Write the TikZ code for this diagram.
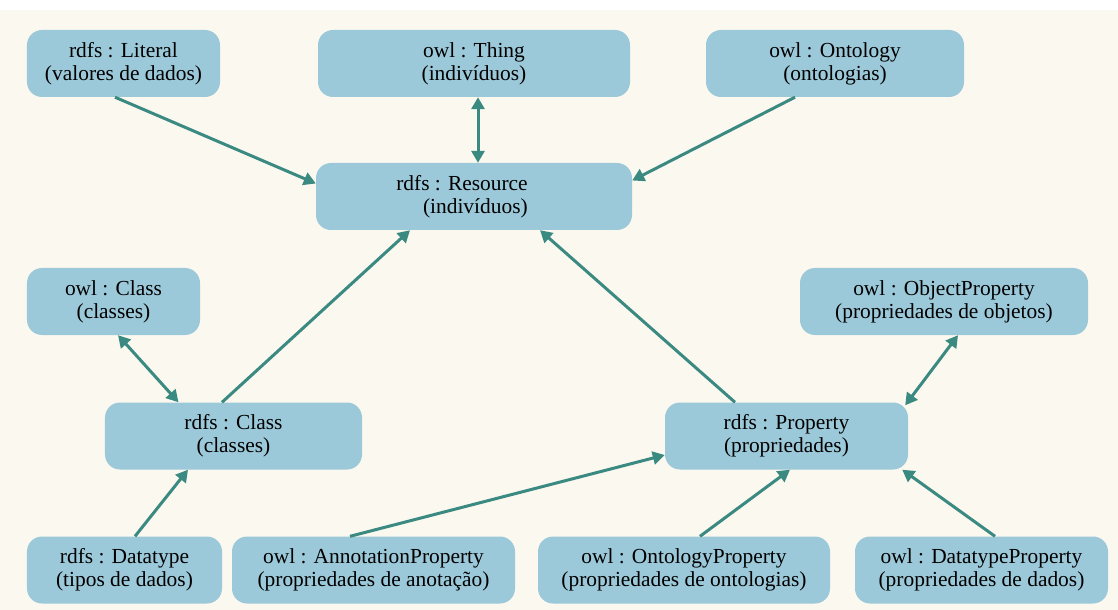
\documentclass[tikz,border=0pt]{standalone}
\usepackage{fontspec}
\setmainfont{Liberation Serif}
\usetikzlibrary{arrows.meta}
\definecolor{bg}{HTML}{FBF8EF}
\definecolor{boxblue}{HTML}{9CC9D9}
\definecolor{arr}{HTML}{3B8A82}
\begin{document}
\begin{tikzpicture}[x=1bp,y=-1bp,
  box/.style={rectangle, rounded corners=15bp, fill=boxblue, inner sep=0pt,
    minimum height=67bp, align=center, font=\fontsize{21.5}{23}\selectfont, text=black},
  link/.style={draw=arr, line width=3bp, -{Triangle[length=12bp,width=13bp]}},
  dlink/.style={draw=arr, line width=3bp, {Triangle[length=12bp,width=13bp]}-{Triangle[length=12bp,width=13bp]}}]
\fill[white] (0,0) rectangle (1118,610);
\fill[bg] (0,10) rectangle (1118,610);
\useasboundingbox (0,0) rectangle (1118,610);

\node[box, minimum width=193bp] (literal) at (123.5,63.5) {rdfs : Literal\\(valores de dados)};
\node[box, minimum width=312bp] (thing) at (474,63.5) {owl : Thing\\(indivíduos)};
\node[box, minimum width=258bp] (ontology) at (835,63.5) {owl : Ontology\\(ontologias)};
\node[box, minimum width=316bp] (resource) at (474,196.5) {};
\node[align=right, font=\fontsize{21.5}{23}\selectfont, text=black, inner sep=0pt] (restext) at (462,196.5) {rdfs : Resource\\(indivíduos)};
\node[box, minimum width=173bp] (owlclass) at (113.5,301.5) {owl : Class\\(classes)};
\node[box, minimum width=288bp] (objprop) at (944,301.5) {owl : ObjectProperty\\(propriedades de objetos)};
\node[box, minimum width=257bp] (rdfsclass) at (233.5,436) {rdfs : Class\\(classes)};
\node[box, minimum width=243bp] (property) at (786.5,436) {rdfs : Property\\(propriedades)};
\node[box, minimum width=195bp] (datatype) at (124.5,570) {rdfs : Datatype\\(tipos de dados)};
\node[box, minimum width=283bp] (annot) at (373.5,570) {owl : AnnotationProperty\\(propriedades de anotação)};
\node[box, minimum width=292bp] (ontprop) at (684,570) {owl : OntologyProperty\\(propriedades de ontologias)};
\node[box, minimum width=253bp] (dtprop) at (981.5,570) {owl : DatatypeProperty\\(propriedades de dados)};

\draw[link] ([xshift=-8.5bp]literal.south) -- ([yshift=13bp]resource.west);
\draw[dlink] ([xshift=4bp]thing.south) -- ([xshift=4bp]resource.north);
\draw[link] ([xshift=-40bp]ontology.south) -- ([yshift=16bp]resource.east);
\draw[dlink] ([xshift=4.5bp]owlclass.south) -- ([xshift=-55bp]rdfsclass.north);
\draw[link] ([xshift=-11.5bp]rdfsclass.north) -- ([xshift=-64bp]resource.south);
\draw[link] ([xshift=-51.5bp]property.north) -- ([xshift=66bp]resource.south);
\draw[dlink] ([xshift=14bp]objprop.south) -- ([xshift=-3bp,yshift=-3bp]property.north east);
\draw[link] ([xshift=10.5bp]datatype.north) -- ([xshift=-45.5bp]rdfsclass.south);
\draw[link] ([xshift=-23.5bp]annot.north) -- ([yshift=-19bp]property.west);
\draw[link] ([xshift=16bp]ontprop.north) -- ([xshift=3.5bp]property.south);
\draw[link] ([xshift=13.5bp]dtprop.north) -- ([xshift=-6bp]property.south east);
\end{tikzpicture}
\end{document}
